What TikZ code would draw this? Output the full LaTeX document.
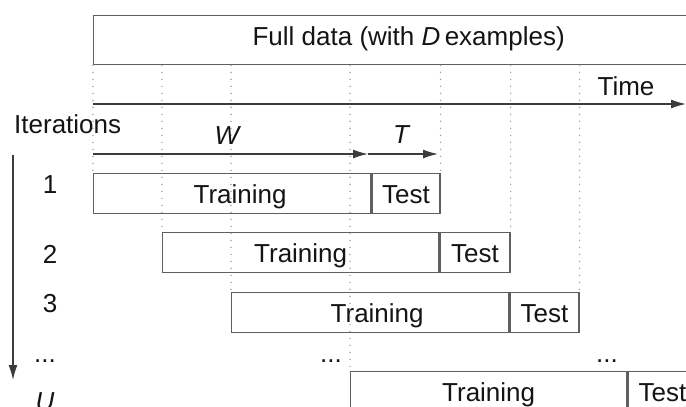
\documentclass[tikz,border=0pt]{standalone}
\usepackage{fontspec}
\setmainfont{Liberation Sans}
\usetikzlibrary{arrows.meta}
\definecolor{linecol}{RGB}{95,95,95}
\definecolor{arrcol}{RGB}{60,60,60}
\definecolor{txtcol}{RGB}{20,20,20}
\definecolor{dotcol}{RGB}{150,150,150}
\begin{document}
\begin{tikzpicture}[x=1pt,y=-1pt,
  every node/.style={text=txtcol, font=\fontsize{26}{31}\selectfont, inner sep=0pt},
  box/.style={draw=linecol, line width=1.3pt, anchor=north west, minimum height=40pt, text height=20pt, text depth=0pt},
  dotline/.style={draw=dotcol, line width=1.6pt, line cap=round, dash pattern=on 0pt off 7pt},
  arr/.style={draw=arrcol, line width=1.3pt, -{Latex[length=15pt,width=9pt]}},
]
\useasboundingbox (0,0) rectangle (686,407);
\clip (0,0) rectangle (686,407);

% full data box
\node[box, minimum width=630pt, minimum height=49pt, text height=16pt, text depth=5pt] (fd) at (93,15) {Full data (with {\itshape D}\,examples)};

% iteration boxes
\node[box, minimum width=277pt] (tr1) at (93,173) {\hspace{16pt}Training};
\node[box, minimum width=68pt] (te1) at (tr1.north east) {Test};
\node[box, minimum width=276pt] (tr2) at (162,232) {Training};
\node[box, minimum width=70pt] (te2) at (tr2.north east) {Test};
\node[box, minimum width=277pt] (tr3) at (231,292) {\hspace{14pt}Training};
\node[box, minimum width=69pt] (te3) at (tr3.north east) {Test};
\node[box, minimum width=276pt] (trU) at (350,371) {Training};
\node[box, minimum width=69pt] (teU) at (trU.north east) {Test};

% dotted guide lines
\foreach \b in {tr1.north west, tr2.north west, tr3.north west, trU.north west, te1.north east, te2.north east, te3.north east}
  \draw[dotline] (fd.south -| \b) -- (\b);

% time axis
\coordinate (ts) at (93,104);
\coordinate (tend) at (686,104);
\draw[arr] (ts) -- (tend);
\node[anchor=base] (time) at (626,95) {Time};

% W and T
\coordinate (w0) at (93,154);
\coordinate (w1) at (368,154);
\coordinate (t1) at (438,154);
\draw[arr] (w0) -- (w1);
\draw[arr] (w1) -- (t1);
\node[anchor=base] (wlab) at (227,144) {\itshape W};
\node[anchor=base] (tlab) at (401,143) {\itshape T};

% iterations axis
\node[anchor=base west] (iter) at (14,133) {Iterations};
\coordinate (v0) at (13,155);
\coordinate (v1) at (13,380);
\draw[arr] (v0) -- (v1);

\node[anchor=base] (n1) at (50,193) {1};
\node[anchor=base] (n2) at (50,263) {2};
\node[anchor=base] (n3) at (50,312) {3};
\node[anchor=base] (ndots) at (45,362) {...};
\node[anchor=base] (nU) at (45,410) {\itshape U};

\node[anchor=base] (mdots) at (331,362) {...};
\node[anchor=base] (rdots) at (607,362) {...};
\end{tikzpicture}
\end{document}
